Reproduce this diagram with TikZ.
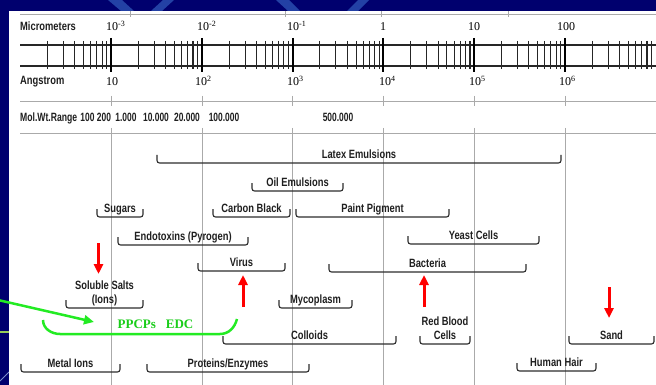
\documentclass[tikz,border=0pt]{standalone}
\usepackage{fontspec}
\usepackage{graphicx}
\setmainfont{Liberation Sans}[FakeStretch=0.78]
\newfontfamily\numfont{Liberation Serif}
\newfontfamily\ppcpfont{Liberation Serif}
\usetikzlibrary{arrows.meta}

\definecolor{slidenavy}{RGB}{0,0,110}
\definecolor{slideblue}{RGB}{35,65,165}
\definecolor{slidegreen}{RGB}{150,205,90}
\definecolor{barcol}{RGB}{45,45,45}
\definecolor{gridgray}{RGB}{170,170,170}
\definecolor{ppcpgreen}{RGB}{35,235,35}
\definecolor{ppcptext}{RGB}{25,205,25}
\definecolor{arrowred}{RGB}{255,0,0}

\tikzset{
  rangebar/.style={draw=barcol, line width=1.1pt, rounded corners=2.5pt},
  rangelabel/.style={anchor=base, inner sep=0pt, text=black!88, font=\bfseries\fontsize{12}{13.5}\selectfont},
  rowlabel/.style={anchor=base west, inner sep=0pt, text=black!88, font=\bfseries\fontsize{12}{13.5}\selectfont},
  numlabel/.style={inner sep=0pt, font=\numfont\fontsize{12}{14}\selectfont},
  minortick/.style={line width=1.1pt, black!85},
  majortick/.style={line width=2pt, black},
  scaleline/.style={line width=1.2pt, black!85},
  gridline/.style={line width=.6pt, gridgray},
  sizearrow/.style={line width=3pt, arrowred, -{Triangle[length=10pt,width=9pt]}},
  ppcparrow/.style={line width=2.5pt, ppcpgreen, -{Triangle[length=10pt,width=9pt]}},
}

% #1 name, #2 left x, #3 right x, #4 bottom y, #5 label
\newcommand{\sizerange}[5]{%
  \draw[rangebar] (#2,#4-8) -- (#2,#4) -- (#3,#4) -- (#3,#4-8);
  \node[rangelabel] (#1) at ({(#2+#3)/2},#4-5) {#5};
}

\begin{document}
\begin{tikzpicture}[x=1pt, y=-1pt, line cap=butt]
  \useasboundingbox (0,0) rectangle (656,385);
  % --- slide background ---
  \fill[slidenavy] (0,0) rectangle (656,385);
  \fill[slideblue] (108,0) -- (122,0) -- (134,11) -- (121,11) -- cycle;
  \fill[slideblue] (163,0) -- (174,0) -- (162,11) -- (151,11) -- cycle;
  \fill[slideblue] (276,0) -- (289,0) -- (300,11) -- (288,11) -- cycle;
  \fill[slideblue] (358,0) -- (369,0) -- (358,11) -- (347,11) -- cycle;
  \draw[slidegreen, line width=1.5pt] (0,332) -- (9,332);
  \draw[slideblue!60!white, line width=1pt] (0,381) .. controls (4,376) .. (9,372);
  \fill[white] (9,11) rectangle (656,385);

  % --- remains of the chart above ---
  \draw[gridline] (20,14) -- (656,14);
  \foreach \x in {130,285,381,508}
    \draw[gridline] (\x,11) -- (\x,17);

  % === size scale ===
  \draw[scaleline] (20,45) -- (656,45);
  \draw[scaleline] (20,66) -- (656,66);
  \foreach \d in {0,...,6} {
    \foreach \k in {2,...,9}
      \draw[minortick] ({20.2+90.8*\d+90.8*log10(\k)},41) -- ++(0,28);
  }
  \foreach \d in {0,...,5}
    \draw[majortick] ({111+90.8*\d},38) -- ++(0,34);

  % --- micrometers ---
  \node[rowlabel] (um) at (20,31) {Micrometers};
  \node[numlabel, anchor=base west] (um-3) at (106,31) {10\textsuperscript{-3}};
  \node[numlabel, anchor=base west] (um-2) at (197,31) {10\textsuperscript{-2}};
  \node[numlabel, anchor=base west] (um-1) at (287,31) {10\textsuperscript{-1}};
  \node[numlabel, anchor=base] (um0) at (383,31) {1};
  \node[numlabel, anchor=base] (um1) at (474,31) {10};
  \node[numlabel, anchor=base] (um2) at (566,31) {100};

  % --- angstrom ---
  \node[rowlabel] (ang) at (20,85) {Angstrom};
  \node[numlabel, anchor=base] (ang1) at (112,86) {10};
  \node[numlabel, anchor=base west] (ang2) at (195,86) {10\textsuperscript{2}};
  \node[numlabel, anchor=base west] (ang3) at (287,86) {10\textsuperscript{3}};
  \node[numlabel, anchor=base west] (ang4) at (379,86) {10\textsuperscript{4}};
  \node[numlabel, anchor=base west] (ang5) at (469,86) {10\textsuperscript{5}};
  \node[numlabel, anchor=base west] (ang6) at (559,86) {10\textsuperscript{6}};

  \draw[gridline] (20,101) -- (656,101);
  \draw[gridline] (20,133) -- (656,133);
  \foreach \d in {0,...,5} {
    \draw[gridline] ({111+90.8*\d},96) -- ++(0,10);
    \draw[gridline] ({111+90.8*\d},128) -- (111+90.8*\d,385);
  }

  % --- molecular weight ---
  \node[rowlabel] (mw) at (20,122) {\scalebox{0.92}[1]{Mol.Wt.Range}};
  \foreach \x/\w [count=\i] in {87.5/100, 104/200, 126/1.000, 156/10.000,
      187/20.000, 224/100.000, 338/500.000}
    \node[rangelabel] (mw\i) at (\x,122) {\scalebox{0.9}[1]{\w}};

  % === particle ranges ===
  \sizerange{latex}{157}{561}{163}{Latex Emulsions}
  \sizerange{oil}{252}{343}{191}{Oil Emulsions}
  \sizerange{sugars}{97}{143}{217}{Sugars}
  \sizerange{carbon}{213}{290}{217}{Carbon Black}
  \sizerange{paint}{296}{449}{217}{Paint Pigment}
  \sizerange{endotox}{118}{248}{245}{Endotoxins (Pyrogen)}
  \sizerange{yeast}{408}{539}{244}{Yeast Cells}
  \sizerange{virus}{198}{285}{271}{Virus}
  \sizerange{bacteria}{329}{526}{272}{Bacteria}
  \sizerange{salts}{66}{143}{308}{\begin{tabular}[b]{@{}c@{}}Soluble Salts\\(Ions)\end{tabular}}
  \sizerange{myco}{279}{352}{308}{Mycoplasm}
  \sizerange{colloids}{223}{396}{344}{Colloids}
  \sizerange{rbc}{420}{470}{344}{\begin{tabular}[b]{@{}c@{}}Red Blood\\Cells\end{tabular}}
  \sizerange{sand}{569}{654}{344}{Sand}
  \sizerange{hair}{517}{596}{371}{Human Hair}
  \sizerange{metal}{21}{120}{372}{Metal Ions}
  \sizerange{proteins}{147}{309}{372}{Proteins/Enzymes}

  % === PPCPs / EDC range ===
  \draw[ppcpgreen, line width=2.5pt] (43,320) to[out=-90, in=180] (60,334)
    -- (220,334) to[out=0, in=-105] (237,319);
  \node[anchor=base, inner sep=0pt, text=ppcptext,
    font=\ppcpfont\bfseries\fontsize{13}{15}\selectfont] (ppcp) at (155.5,328)
    {PPCPs\hspace{10pt}EDC};
  \coordinate (ppcp-src) at (-2,300);
  \coordinate (ppcp-tip) at (94,322);
  \draw[ppcparrow] (ppcp-src) -- (ppcp-tip);

  % === red markers ===
  \coordinate (salts-from) at (98.5,243);
  \coordinate (salts-to) at (98.5,274);
  \coordinate (virus-from) at (243,307);
  \coordinate (virus-to) at (243,275);
  \coordinate (bact-from) at (424,307);
  \coordinate (bact-to) at (424,275);
  \coordinate (sand-from) at (609,287);
  \coordinate (sand-to) at (609,318);
  \draw[sizearrow] (salts-from) -- (salts-to);
  \draw[sizearrow] (virus-from) -- (virus-to);
  \draw[sizearrow] (bact-from) -- (bact-to);
  \draw[sizearrow] (sand-from) -- (sand-to);
\end{tikzpicture}
\end{document}
